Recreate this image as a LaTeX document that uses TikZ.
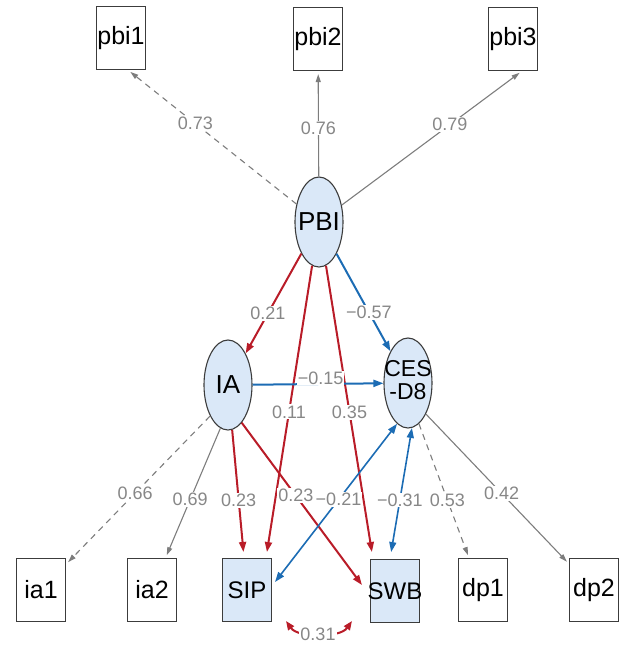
\documentclass[tikz,border=0pt]{standalone}
\usepackage{fontspec}
\setmainfont{Liberation Sans}
\usepackage{tikz}
\usetikzlibrary{shapes.geometric}
\usetikzlibrary{arrows.meta}

\definecolor{pathred}{RGB}{185,28,40}
\definecolor{pathblue}{RGB}{28,108,180}
\definecolor{latentfill}{RGB}{218,232,248}
\definecolor{coefgray}{RGB}{135,135,135}
\definecolor{linegray}{RGB}{125,125,125}
\definecolor{framegray}{RGB}{60,60,60}

\tikzset{
  manifest/.style={draw=framegray, line width=1.1pt, minimum width=49pt, minimum height=63pt,
    inner sep=0pt, font=\fontsize{25}{27}\selectfont},
  outcome/.style={manifest, fill=latentfill, font=\fontsize{24}{26}\selectfont},
  latent/.style={ellipse, draw=framegray, line width=1.1pt, fill=latentfill, minimum width=48pt,
    minimum height=90pt, inner sep=0pt, font=\fontsize{26}{28}\selectfont},
  loading/.style={draw=linegray, line width=1.1pt, -{Triangle[length=8pt,width=5pt]}, shorten >=3pt},
  fixedloading/.style={loading, dash pattern=on 6pt off 5pt},
  poseffect/.style={draw=pathred, line width=2pt, -{Triangle[length=10pt,width=7pt]}},
  negeffect/.style={draw=pathblue, line width=2pt, -{Triangle[length=10pt,width=7pt]}},
  negcov/.style={draw=pathblue, line width=1.6pt, {Triangle[length=10pt,width=7pt]}-{Triangle[length=10pt,width=7pt]}},
  poscov/.style={draw=pathred, line width=2pt, {Triangle[length=9pt,width=7pt]}-{Triangle[length=9pt,width=7pt]}},
  coef/.style={fill=white, inner sep=1pt, text=coefgray, font=\fontsize{18}{19}\selectfont},
}

\begin{document}
\begin{tikzpicture}[x=1pt, y=-1pt]
  \useasboundingbox (0,0) rectangle (621,646);

  % PBI indicators
  \node[manifest] (pbi1) at (121,38) {pbi1};
  \node[manifest] (pbi2) at (318,39) {pbi2};
  \node[manifest] (pbi3) at (513,39) {pbi3};

  % Latent variables
  \node[latent] (PBI) at (319,222) {\makebox[0pt]{PBI}};
  \node[latent] (IA) at (228,385) {\makebox[0pt]{IA}};
  \node[latent, font=\fontsize{23}{21}\selectfont] (CES) at (408,383)
    {\makebox[0pt]{\begin{tabular}{@{}c@{}}CES\\-D8\end{tabular}}};

  % Lower row
  \node[manifest] (ia1) at (41,590) {ia1};
  \node[manifest] (ia2) at (152,590) {ia2};
  \node[outcome] (SIP) at (247,590) {SIP};
  \node[outcome] (SWB) at (395,591) {\makebox[0pt]{SWB}};
  \node[manifest] (dp1) at (483,590) {dp1};
  \node[manifest] (dp2) at (594,590) {dp2};
  \coordinate (sipcov) at (286,621);
  \coordinate (swbcov) at (352,621);

  % Loadings of PBI
  \draw[fixedloading] (PBI) -- ([xshift=7pt]pbi1.south) node[coef, pos=0.6] (b-pbi1) {0.73};
  \draw[loading] (PBI) -- (pbi2) node[coef, pos=0.46] (b-pbi2) {0.76};
  \draw[loading] (PBI) -- ([xshift=9pt]pbi3.south) node[coef, pos=0.6] (b-pbi3) {0.79};

  % Loadings of IA and CES-D8
  \draw[fixedloading] (IA.240) -- (ia1) node[coef, pos=0.52] (b-ia1) {0.66};
  \draw[loading] (IA.260) -- (ia2) node[coef, pos=0.55] (b-ia2) {0.69};
  \draw[fixedloading] (CES.285) -- ([xshift=-14pt]dp1.north) node[coef, pos=0.57] (b-dp1) {0.53};
  \draw[loading] (CES.300) -- (dp2) node[coef, pos=0.53] (b-dp2) {0.42};

  % Paths from PBI
  \draw[poseffect] (PBI) -- (IA) node[coef, pos=0.6] (b-ia) {0.21};
  \draw[negeffect] (PBI) -- (CES) node[coef, pos=0.6] (b-ces) {−0.57};
  \draw[poseffect, shorten >=6pt] (PBI) -- ([xshift=19pt]SIP.north) node[coef, pos=0.5] (b-sip) {0.11};
  \draw[poseffect, shorten >=7pt] (PBI) -- ([xshift=-22pt]SWB.north) node[coef, pos=0.5] (b-swb) {0.35};

  % Paths from IA
  \draw[negeffect] (IA) -- (CES) node[coef, pos=0.52, yshift=6pt] (b-iaces) {−0.15};
  \draw[poseffect, shorten >=6pt] (IA) -- (SIP) node[coef, pos=0.55] (b-iasip) {0.23};
  \draw[poseffect] (IA.290) -- ([xshift=-8pt,yshift=6pt]SWB.west) node[coef, pos=0.45] (b-iaswb) {0.23};

  % Covariances
  \draw[negcov] ([xshift=3pt,yshift=8pt]SIP.east) -- (CES.255) node[coef, pos=0.52] (c-sip) {−0.21};
  \draw[negcov, shorten <=7pt] ([xshift=-5pt]SWB.north) -- (CES.275) node[coef, pos=0.45] (c-swb) {−0.31};
  \draw[poscov] (sipcov) .. controls (298,638) and (340,638) .. (swbcov);
  \node[coef] (c-sipswb) at (318,634) {0.31};
\end{tikzpicture}
\end{document}
